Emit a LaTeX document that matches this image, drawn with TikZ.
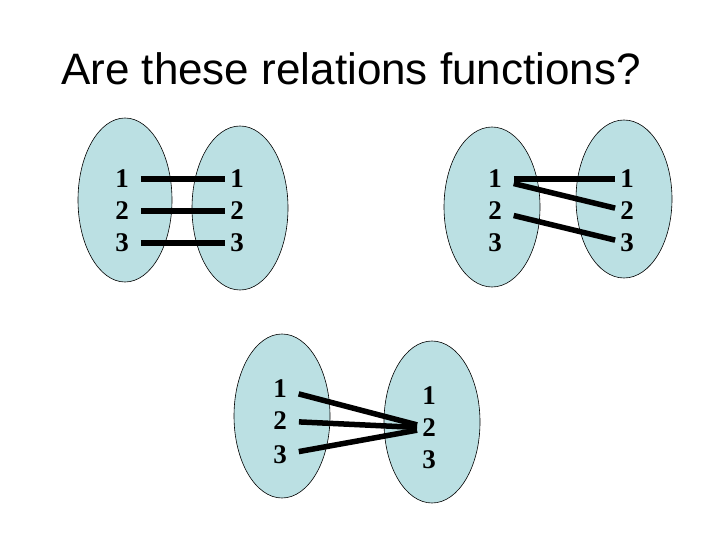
\documentclass[tikz,border=0pt]{standalone}
\usepackage{fontspec}
\usepackage{tikz}
\usepackage{xcolor}
\setmainfont{Liberation Serif}
\newfontfamily\titlefont{Liberation Sans}
\newfontfamily\elemfont{Liberation Serif Bold}
\definecolor{SetFill}{HTML}{BBE0E3}

\begin{document}
\begin{tikzpicture}[x=1pt,y=-1pt,
    setshape/.style={fill=SetFill,draw=black,line width=0.6pt},
    elem/.style={font=\elemfont\fontsize{27}{27}\selectfont,inner xsep=3pt,inner ysep=2pt},
    link/.style={line width=5.5pt,shorten <=9pt,shorten >=2pt}]
  \useasboundingbox (0,0) rectangle (720,540);
  \node[anchor=base,font=\titlefont\fontsize{44}{44}\selectfont] (title) at (351,85) {Are these relations functions?};
  % the six sets
  \filldraw[setshape] (125,200) ellipse [x radius=47,y radius=82];
  \filldraw[setshape] (240,208) ellipse [x radius=48,y radius=82];
  \filldraw[setshape] (492,207) ellipse [x radius=48,y radius=80];
  \filldraw[setshape] (624,199) ellipse [x radius=48,y radius=79];
  \filldraw[setshape] (282,416) ellipse [x radius=48,y radius=82];
  \filldraw[setshape] (432,422) ellipse [x radius=48,y radius=81];
  % elements
  \foreach \n/\y in {1/179,2/211,3/243} {
    \node[elem] (a\n) at (122,\y) {\n};
    \node[elem] (b\n) at (237,\y) {\n};
    \node[elem] (c\n) at (495,\y) {\n};
    \node[elem] (d\n) at (627,\y) {\n};
  }
  \foreach \n/\y/\z in {1/389/396,2/421/428,3/455/460} {
    \node[elem] (e\n) at (280,\y) {\n};
    \node[elem] (f\n) at (429,\z) {\n};
  }
  % mappings
  \foreach \p/\q in {a1/b1,a2/b2,a3/b3,c1/d1,c1/d2,c2/d3,e1/f2,e2/f2,e3/f2} {
    \draw[link] (\p) -- (\q);
  }
\end{tikzpicture}
\end{document}
